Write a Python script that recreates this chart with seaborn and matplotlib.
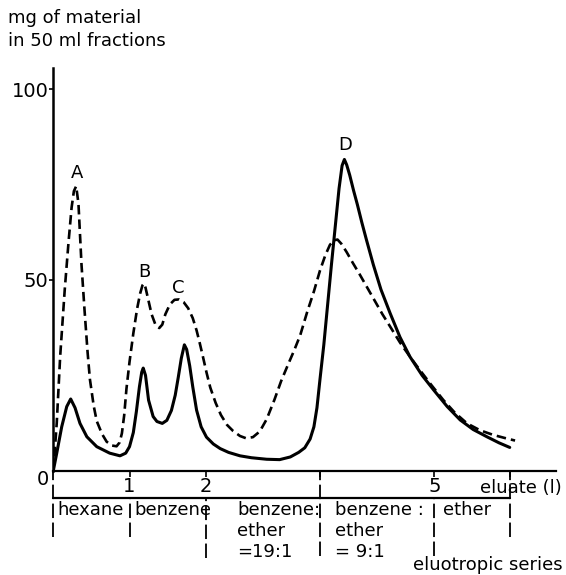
import matplotlib
matplotlib.use("Agg")
import matplotlib.pyplot as plt
import seaborn as sns
import pandas as pd

# solid curve
solid_x = [0.00, 0.045, 0.11, 0.176, 0.228, 0.285, 0.35, 0.44, 0.57, 0.74, 0.875, 0.95, 1.00,
           1.05, 1.09, 1.13, 1.16, 1.18, 1.21, 1.25, 1.31, 1.36, 1.43, 1.49, 1.55, 1.60, 1.64,
           1.68, 1.72, 1.75, 1.79, 1.83, 1.88, 1.94, 2.01, 2.10, 2.19, 2.30, 2.45, 2.60, 2.80,
           2.97, 3.11, 3.22, 3.30, 3.37, 3.42, 3.46, 3.50, 3.55, 3.60, 3.65, 3.70, 3.75, 3.79,
           3.82, 3.85, 3.89, 3.94, 3.99, 4.05, 4.11, 4.20, 4.30, 4.42, 4.55, 4.68, 4.84, 4.99,
           5.17, 5.34, 5.51, 5.69, 5.85, 5.99]
solid_y = [0.0, 4.6, 11.5, 16.8, 18.8, 16.5, 12.4, 8.9, 6.3, 4.6, 3.9, 4.6, 6.3,
           10.0, 15.5, 22.0, 25.8, 26.9, 25.0, 18.5, 14.2, 12.9, 12.4, 13.2, 15.8, 19.8, 24.5,
           29.5, 33.0, 31.8, 27.5, 22.0, 15.9, 11.5, 8.8, 7.0, 5.8, 4.8, 3.9, 3.4, 3.0,
           2.9, 3.6, 4.8, 6.0, 8.3, 11.5, 16.5, 24.0, 33.0, 43.5, 54.0, 64.0, 74.0, 80.0,
           81.6, 80.2, 77.5, 73.5, 69.8, 65.0, 60.5, 54.0, 47.5, 41.3, 35.0, 29.9, 25.0, 21.2,
           16.8, 13.3, 10.8, 8.9, 7.3, 6.1]

# dashed curve
dashed_x = [0.00, 0.045, 0.09, 0.15, 0.20, 0.24, 0.27, 0.30, 0.33, 0.35, 0.37, 0.41, 0.45,
            0.48, 0.53, 0.57, 0.64, 0.70, 0.77, 0.83, 0.87, 0.90, 0.93, 0.96, 1.00, 1.05, 1.10,
            1.14, 1.17, 1.19, 1.21, 1.25, 1.29, 1.34, 1.39, 1.43, 1.47, 1.53, 1.59, 1.65, 1.71,
            1.77, 1.83, 1.88, 1.92, 1.96, 2.01, 2.06, 2.13, 2.20, 2.28, 2.36, 2.45, 2.53, 2.62,
            2.71, 2.80, 2.90, 2.99, 3.08, 3.16, 3.24, 3.33, 3.42, 3.50, 3.57, 3.63, 3.68, 3.73,
            3.78, 3.85, 3.93, 4.02, 4.12, 4.22, 4.32, 4.42, 4.55, 4.68, 4.81, 4.96, 5.12, 5.27,
            5.43, 5.60, 5.77, 5.92, 6.06]
dashed_y = [0.0, 12.5, 30.0, 47.5, 60.0, 69.0, 73.3, 74.6, 70.0, 62.0, 54.0, 42.0, 31.0,
            24.0, 17.0, 13.0, 9.6, 7.6, 6.6, 6.4, 7.4, 9.8, 14.5, 21.5, 28.5, 36.0, 42.5,
            46.5, 48.6, 49.1, 48.0, 44.5, 41.0, 38.3, 37.4, 38.3, 41.0, 43.6, 44.8, 44.9, 44.2,
            42.6, 40.0, 36.8, 33.6, 30.2, 25.8, 21.8, 17.8, 14.6, 12.0, 10.4, 9.1, 8.5, 8.8,
            10.3, 13.5, 18.5, 23.5, 27.8, 31.5, 35.5, 41.5, 47.0, 52.5, 56.5, 59.2, 60.4, 60.6,
            59.5, 57.3, 54.5, 51.5, 48.0, 44.5, 41.0, 37.8, 33.6, 29.9, 26.4, 22.5, 18.5, 15.2,
            12.4, 10.6, 9.4, 8.6, 7.9]

peak_names = ["A", "B", "C", "D"]
peak_x = [0.307, 1.20, 1.64, 3.83]
peak_y = [78.0, 52.2, 47.8, 85.4]

# eluotropic series bands
bounds = [0, 1, 2, 3.5, 5, 6]
bound_top = [0, -7.2, -7.2, 0, -7.2, 0]
bound_bottom = [-17.5, -17.5, -22.9, -22.4, -22.4, -17.5]
solvent_labels = ["hexane", "benzene", "benzene:\nether\n=19:1", "benzene :\nether\n= 9:1", "ether"]
solvent_x = [0.05, 1.07, 2.41, 3.70, 5.11]

xticks = [1, 2, 3.5, 5, 6]
xticklabels = ["1", "2", "", "5", ""]
yticks = [50, 100]

sns.set_style("white", {"axes.edgecolor": "black", "text.color": "black",
                        "xtick.color": "black", "ytick.color": "black",
                        "axes.labelcolor": "black"})
plt.rcParams['font.family'] = ['DejaVu Sans']

fig = plt.figure(figsize=(5.66, 5.75), dpi=100)
ax = fig.add_axes([0.0942, 0.1814, 0.8885, 0.6998])

df_s = pd.DataFrame({"x": solid_x, "y": solid_y})
df_d = pd.DataFrame({"x": dashed_x, "y": dashed_y})
sns.lineplot(data=df_s, x="x", y="y", sort=False, color="black", lw=2.2, ax=ax)
sns.lineplot(data=df_d, x="x", y="y", sort=False, color="black", lw=1.9,
             linestyle=(0, (3.6, 1.9)), ax=ax)
for ln in ax.get_lines():
    ln.set_solid_joinstyle("round")
    ln.set_dash_joinstyle("round")

for name, px, py in zip(peak_names, peak_x, peak_y):
    ax.text(px, py, name, ha="center", va="center", fontsize=13, color="black")

ax.set_xlim(0, 6.6)
ax.set_ylim(0, 105.5)
sns.despine(ax=ax)
ax.spines["left"].set_linewidth(1.8)
ax.spines["bottom"].set_linewidth(1.6)
ax.set_xticks(xticks)
ax.set_xticklabels(xticklabels)
ax.set_yticks(yticks)
ax.tick_params(axis="x", direction="out", length=4, width=1.2, pad=0.5, labelsize=14,
               bottom=True, colors="black")
ax.tick_params(axis="y", direction="out", length=3, width=1.2, pad=0.5, labelsize=14,
               left=True, colors="black")
ax.set_xlabel("")
ax.set_ylabel("")

ax.text(-0.14, -2.4, "0", ha="center", va="center", fontsize=14, clip_on=False, color="black")
ax.text(5.60, -7.0, "eluate (l)", ha="left", va="bottom", fontsize=13, clip_on=False,
        color="black")

# band under the axis
ax.plot([0, 6], [-7.2, -7.2], color="black", lw=1.6, clip_on=False)
ax.vlines(bounds, bound_bottom, bound_top, colors="black", lw=1.3,
          linestyles=[(0, (8, 2.5))], clip_on=False)
for lab, lx in zip(solvent_labels, solvent_x):
    ax.text(lx, -8.0, lab, ha="left", va="top", fontsize=13, clip_on=False, linespacing=1.2,
            color="black")
ax.text(6.69, -24.8, "eluotropic series", ha="right", va="center", fontsize=13, clip_on=False,
        color="black")

fig.text(0.014, 0.985, "mg of material\nin 50 ml fractions", ha="left", va="top",
         fontsize=13, linespacing=1.35, color="black")

fig.savefig("out.png", dpi=100)
